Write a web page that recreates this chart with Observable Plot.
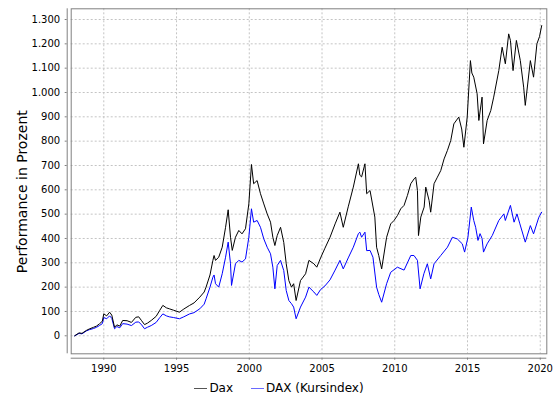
<!DOCTYPE html>
<html>
<head>
<meta charset="utf-8">
<script src="https://cdn.jsdelivr.net/npm/d3@7"></script>
<script src="https://cdn.jsdelivr.net/npm/@observablehq/plot@0.6"></script>
<style>
  html, body { margin: 0; padding: 0; background: #fff; }
  #chart { width: 558px; height: 400px; position: relative; font-family: "DejaVu Sans", sans-serif; }
  #legend { position: absolute; left: 0; top: 376px; width: 558px; height: 24px; display: flex; justify-content: center; align-items: center; font-size: 12px; color: #000; }
  .sw { display: inline-block; width: 13px; height: 1px; margin: 0 2px 0 0; }
  .item { display: inline-flex; align-items: center; margin: 0 9px; }
</style>
</head>
<body>
<div id="chart"></div>
<script>
// Series names
const seriesNames = ["Dax", "DAX (Kursindex)"];

// Dax (Performance index)
const daxYears = [1988.0,1988.3,1988.5,1988.8,1989.0,1989.3,1989.5,1989.7,1989.9,1990.0,1990.2,1990.4,1990.55,1990.74,1990.9,1991.1,1991.3,1991.6,1991.9,1992.2,1992.4,1992.6,1992.8,1993.0,1993.26,1993.6,1993.85,1994.06,1994.3,1994.5,1994.8,1995.2,1995.5,1995.9,1996.2,1996.6,1996.9,1997.03,1997.3,1997.5,1997.58,1997.68,1997.9,1998.14,1998.37,1998.55,1998.71,1998.83,1999.05,1999.28,1999.5,1999.74,1999.97,2000.15,2000.3,2000.54,2000.77,2001.0,2001.23,2001.46,2001.62,2001.76,2001.92,2002.15,2002.37,2002.54,2002.72,2002.9,2003.05,2003.22,2003.52,2003.87,2004.1,2004.44,2004.64,2004.9,2005.2,2005.55,2005.9,2006.23,2006.46,2006.8,2007.15,2007.5,2007.6,2007.72,2007.95,2008.07,2008.3,2008.63,2008.75,2008.9,2009.1,2009.44,2009.72,2009.95,2010.18,2010.41,2010.64,2010.87,2011.1,2011.33,2011.44,2011.56,2011.63,2011.79,2012.02,2012.13,2012.36,2012.47,2012.7,2012.93,2013.16,2013.39,2013.62,2013.85,2014.06,2014.4,2014.6,2014.75,2014.98,2015.2,2015.3,2015.43,2015.66,2015.78,2016.0,2016.1,2016.35,2016.6,2016.8,2017.15,2017.38,2017.6,2017.83,2017.95,2018.13,2018.36,2018.63,2018.86,2018.97,2019.32,2019.54,2019.77,2019.95,2020.1];
const daxValues = [0,12,10,22,28,35,40,49,60,90,82,97,85,35,45,40,63,62,55,76,78,62,46,52,63,80,105,125,115,111,105,97,110,125,135,159,180,200,250,310,330,310,323,364,446,518,405,351,405,433,419,440,542,704,625,638,584,542,501,467,405,371,412,446,384,296,227,200,214,145,227,255,310,296,282,320,360,405,460,508,446,530,611,707,660,653,707,584,597,488,364,330,275,405,460,474,494,522,536,577,625,645,652,597,412,488,529,611,556,508,625,652,679,727,762,803,871,899,850,775,899,1131,1080,1063,995,885,981,789,885,926,981,1090,1186,1118,1241,1214,1090,1214,1131,1022,947,1131,1063,1200,1230,1275];

// DAX (Kursindex)
const kursYears = [1988.0,1988.3,1988.5,1988.8,1989.0,1989.3,1989.5,1989.7,1989.9,1990.0,1990.2,1990.4,1990.55,1990.74,1990.9,1991.1,1991.3,1991.6,1991.9,1992.2,1992.4,1992.6,1992.8,1993.0,1993.26,1993.6,1993.85,1994.06,1994.3,1994.5,1994.8,1995.2,1995.5,1995.9,1996.2,1996.6,1996.9,1997.03,1997.3,1997.5,1997.58,1997.68,1997.9,1998.14,1998.37,1998.55,1998.71,1998.78,1999.05,1999.28,1999.5,1999.74,1999.97,2000.15,2000.3,2000.54,2000.77,2001.0,2001.23,2001.46,2001.62,2001.76,2001.92,2002.15,2002.37,2002.54,2002.72,2002.9,2003.05,2003.22,2003.52,2003.87,2004.1,2004.44,2004.64,2004.9,2005.2,2005.55,2005.9,2006.23,2006.46,2006.8,2007.15,2007.5,2007.6,2007.72,2007.95,2008.07,2008.3,2008.5,2008.75,2008.9,2009.1,2009.44,2009.72,2010.18,2010.64,2011.1,2011.32,2011.56,2011.74,2012.0,2012.24,2012.47,2012.7,2013.16,2013.62,2013.96,2014.3,2014.64,2014.8,2015.03,2015.26,2015.43,2015.56,2015.72,2015.86,2016.0,2016.1,2016.35,2016.7,2017.15,2017.5,2017.6,2017.95,2018.2,2018.4,2018.6,2018.97,2019.32,2019.54,2019.9,2020.1];
const kursValues = [0,10,8,20,25,30,35,42,50,75,70,82,72,29,38,33,50,48,42,56,57,45,29,35,42,55,75,90,82,78,75,70,78,90,95,111,130,152,200,241,250,214,200,255,323,385,296,207,296,310,303,316,405,522,467,474,446,398,364,337,282,193,289,310,268,186,145,132,118,70,118,159,200,180,166,190,205,230,270,310,275,320,364,420,426,405,426,350,351,323,200,170,138,214,261,282,270,330,330,310,193,255,296,234,296,330,364,405,398,378,344,405,529,474,446,392,420,400,344,378,412,474,501,474,536,467,501,460,385,453,419,487,508];

// Axis ticks
const xTicks = [1990, 1995, 2000, 2005, 2010, 2015, 2020];
const yTicks = [0,100,200,300,400,500,600,700,800,900,1000,1100,1200,1300];
const yLabel = "Performance in Prozent";

const dax = daxYears.map((t, i) => ({t, v: daxValues[i]}));
const kurs = kursYears.map((t, i) => ({t, v: kursValues[i]}));

const deFmt = d3.formatLocale({decimal: ",", thousands: ".", grouping: [3], currency: ["", "€"]}).format(",d");

const xMin = 1987.76, yMin = -74;
const gridStyle = {stroke: "#c4c4c4", strokeOpacity: 1, strokeDasharray: "2,2", strokeWidth: 1};

const plot = Plot.plot({
  width: 558,
  height: 376,
  marginLeft: 70.7,
  marginRight: 11.7,
  marginTop: 8.3,
  marginBottom: 22.7,
  x: {domain: [xMin, 2020.45]},
  y: {domain: [yMin, 1344]},
  style: {fontFamily: "DejaVu Sans", fontSize: "10px", color: "#000", background: "#fff", overflow: "visible"},
  marks: [
    Plot.gridX(xTicks, gridStyle),
    Plot.gridY(yTicks, gridStyle),
    Plot.line(kurs, {x: "t", y: "v", stroke: "#0000ff", strokeWidth: 1}),
    Plot.line(dax, {x: "t", y: "v", stroke: "#000000", strokeWidth: 1}),
    Plot.frame({stroke: "#808080"}),
    Plot.ruleX([xMin], {dx: -4, stroke: "#808080"}),
    Plot.ruleY([yMin], {dy: 4.4, stroke: "#808080"}),
    Plot.axisX(xTicks, {tickSize: 2, tickPadding: 4.5, dy: 4.4, stroke: "#808080", tickFormat: d => String(d), label: null}),
    Plot.axisY(yTicks, {tickSize: 2, tickPadding: 5, dx: -4, stroke: "#808080", tickFormat: deFmt, label: null})
  ]
});

d3.select(plot).append("text")
  .attr("transform", "translate(22,191.7) rotate(-90)")
  .attr("text-anchor", "middle")
  .attr("dominant-baseline", "central")
  .attr("font-family", "DejaVu Sans")
  .attr("font-size", 14)
  .attr("fill", "#000")
  .text(yLabel);

const chart = document.getElementById("chart");
chart.appendChild(plot);

const legend = document.createElement("div");
legend.id = "legend";
const colors = ["#555555", "#6a6aff"];
seriesNames.forEach((name, i) => {
  const item = document.createElement("span");
  item.className = "item";
  const sw = document.createElement("span");
  sw.className = "sw";
  sw.style.background = colors[i];
  item.appendChild(sw);
  const lab = document.createElement("span");
  lab.textContent = name;
  item.appendChild(lab);
  legend.appendChild(item);
});
chart.appendChild(legend);
</script>
</body>
</html>
